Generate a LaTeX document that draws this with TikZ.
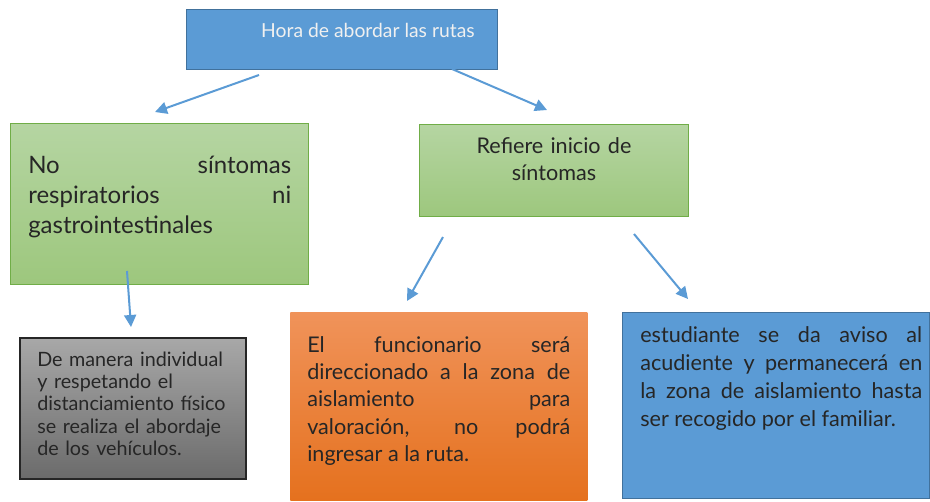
\documentclass[tikz,border=0pt]{standalone}
\usepackage{fontspec}
\setmainfont{Lato}
\usetikzlibrary{arrows.meta,calc}
\definecolor{boxblue}{HTML}{5B9BD5}
\definecolor{boxblueline}{HTML}{41719C}
\definecolor{greentop}{HTML}{B5D5A2}
\definecolor{greenbot}{HTML}{9DC77D}
\definecolor{greenline}{HTML}{70AD47}
\definecolor{graytop}{HTML}{A8A8A8}
\definecolor{graybot}{HTML}{6B6B6B}
\definecolor{grayline}{HTML}{262626}
\definecolor{orangetop}{HTML}{F0935A}
\definecolor{orangebot}{HTML}{E5711E}
\definecolor{txt}{HTML}{262626}
\begin{document}
\begin{tikzpicture}[x=0.75pt,y=-0.75pt,
  boxbase/.style={anchor=north west, inner sep=0pt, rectangle},
  bluebox/.style={boxbase, fill=boxblue, draw=boxblueline, line width=1.1pt},
  greenbox/.style={boxbase, top color=greentop, bottom color=greenbot, draw=greenline, line width=1.1pt},
  graybox/.style={boxbase, top color=graytop, bottom color=graybot, draw=grayline, line width=1.3pt},
  orangebox/.style={boxbase, top color=orangetop, bottom color=orangebot, draw=none},
  bodytext/.style={inner sep=0pt, text=txt},
  link/.style={draw=boxblue, line width=1.5pt, -{Triangle[length=9pt,width=9pt]}}
]
\useasboundingbox (0,0) rectangle (930,501);
% boxes
\node[bluebox, minimum width=233.25pt, minimum height=45pt] (top) at (186,9) {};
\node[greenbox, minimum width=223.5pt, minimum height=120.75pt] (gl) at (10,123) {};
\node[greenbox, minimum width=201.75pt, minimum height=69pt] (gr) at (419,124) {};
\node[graybox, minimum width=169.5pt, minimum height=105.75pt] (gray) at (19,337) {};
\node[orangebox, minimum width=222.75pt, minimum height=141pt] (orange) at (290,312) {};
\node[bluebox, minimum width=230.25pt, minimum height=139.5pt] (br) at (622,312) {};
% texts
\node[inner sep=0pt, text=white!94!black, anchor=base, font=\fontsize{14.5}{17}\selectfont] (toptxt) at (368,37) {Hora de abordar las rutas};
\node[bodytext, anchor=base west, text width=197.25pt, align=justify, font=\fontsize{18}{22.5}\selectfont] (gltxt) at (28,173)
  {No síntomas\linebreak respiratorios ni\linebreak gastrointestinales};
\node[bodytext, anchor=base, text width=190pt, align=center, font=\fontsize{16.2}{20.25}\selectfont] (grtxt) at (554,153)
  {Refiere inicio de\\síntomas};
\node[bodytext, anchor=base west, text width=160pt, align=left, font=\fontsize{14.8}{16.8}\selectfont] (graytxt) at (37,366)
  {De manera individual\\y respetando el\\distanciamiento físico\\se realiza el abordaje\\de los vehículos.};
\node[bodytext, anchor=base west, text width=197.25pt, align=justify, font=\fontsize{16.2}{20.6}\selectfont] (orangetxt) at (307,352)
  {El funcionario será\linebreak direccionado a la zona de\linebreak aislamiento para\linebreak valoración, no podrá\linebreak ingresar a la ruta.};
\node[bodytext, anchor=base west, text width=211.5pt, align=justify, font=\fontsize{16.2}{21}\selectfont] (brtxt) at (640,342)
  {estudiante se da aviso al\linebreak acudiente y permanecerá en\linebreak la zona de aislamiento hasta\linebreak ser recogido por el familiar.};
% connector end points
\coordinate (a1s) at (259,75);  \coordinate (a1e) at (155,112);
\coordinate (a2s) at (452,69);  \coordinate (a2e) at (547,110);
\coordinate (a3s) at (127,271); \coordinate (a3e) at (131,327);
\coordinate (a4s) at (443,237); \coordinate (a4e) at (407,301);
\coordinate (a5s) at (634,234); \coordinate (a5e) at (688,299);
\draw[link] (a1s) -- (a1e);
\draw[link] (a2s) -- (a2e);
\draw[link] (a3s) -- (a3e);
\draw[link] (a4s) -- (a4e);
\draw[link] (a5s) -- (a5e);
\end{tikzpicture}
\end{document}
